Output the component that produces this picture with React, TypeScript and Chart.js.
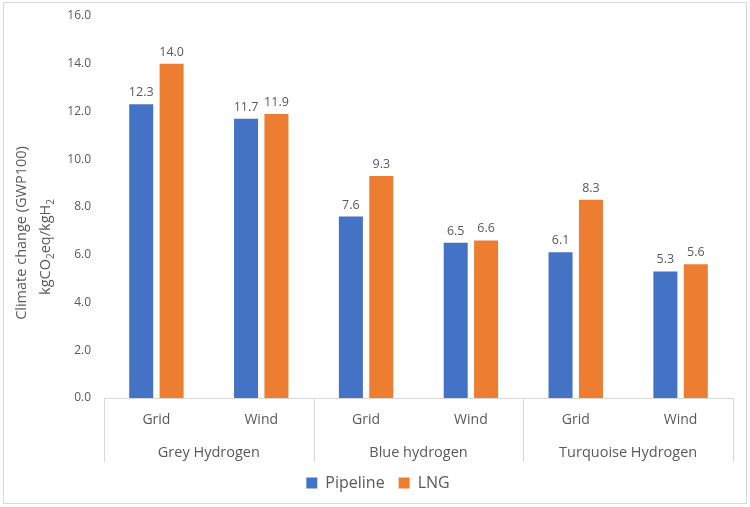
import { useEffect, useRef } from "react";
import { Chart, registerables } from "chart.js";

Chart.register(...registerables);

const categories = ["Grid", "Wind", "Grid", "Wind", "Grid", "Wind"];
const groups = ["Grey Hydrogen", "Blue hydrogen", "Turquoise Hydrogen"];
const pipeline = [12.3, 11.7, 7.6, 6.5, 6.1, 5.3];
const lng = [14.0, 11.9, 9.3, 6.6, 8.3, 5.6];
const yTitleLine1 = "Climate change (GWP100)";
// second title line split into normal / subscript pieces
const yTitleLine2: [string, boolean][] = [
  ["kgCO", false],
  ["2", true],
  ["eq/kgH", false],
  ["2", true],
];

const FONT = "'Open Sans', 'Noto Sans', sans-serif";
const TEXT = "#595959";
const LINE = "#d9d9d9";

const extrasPlugin = {
  id: "extras",
  afterDatasetsDraw(chart: any) {
    const ctx = chart.ctx;
    ctx.save();
    ctx.fillStyle = TEXT;
    ctx.font = `12.5px ${FONT}`;
    ctx.textAlign = "center";
    ctx.textBaseline = "alphabetic";
    chart.data.datasets.forEach((ds: any, i: number) => {
      const meta = chart.getDatasetMeta(i);
      meta.data.forEach((bar: any, j: number) => {
        ctx.fillText(Number(ds.data[j]).toFixed(1), bar.x, bar.y - 8);
      });
    });
    ctx.restore();
  },
  afterDraw(chart: any) {
    const ctx = chart.ctx;
    const x = chart.scales.x;
    const area = chart.chartArea;
    const step = x.getPixelForValue(1) - x.getPixelForValue(0);
    const edge = (i: number) => x.getPixelForValue(0) - step / 2 + i * step;

    ctx.save();
    // group dividers
    ctx.strokeStyle = LINE;
    ctx.lineWidth = 1;
    for (let g = 0; g <= groups.length; g++) {
      const px = Math.round(edge(g * 2)) + 0.5;
      ctx.beginPath();
      ctx.moveTo(px, area.bottom);
      ctx.lineTo(px, area.bottom + 64);
      ctx.stroke();
    }
    // group labels
    ctx.fillStyle = TEXT;
    ctx.font = `14.5px ${FONT}`;
    ctx.textAlign = "center";
    ctx.textBaseline = "middle";
    groups.forEach((g, i) => {
      ctx.fillText(g, (edge(i * 2) + edge(i * 2 + 2)) / 2, area.bottom + 55);
    });

    // y axis title, two rotated lines
    const cy = 233;
    ctx.translate(22, cy);
    ctx.rotate(-Math.PI / 2);
    ctx.font = `14.5px ${FONT}`;
    ctx.fillText(yTitleLine1, 0, 0);
    ctx.restore();

    ctx.save();
    ctx.fillStyle = TEXT;
    ctx.translate(46, cy + 14);
    ctx.rotate(-Math.PI / 2);
    ctx.textBaseline = "middle";
    ctx.textAlign = "left";
    const big = `14.5px ${FONT}`;
    const small = `10px ${FONT}`;
    let total = 0;
    yTitleLine2.forEach(([t, sub]) => {
      ctx.font = sub ? small : big;
      total += ctx.measureText(t).width;
    });
    let px = -total / 2;
    yTitleLine2.forEach(([t, sub]) => {
      ctx.font = sub ? small : big;
      ctx.fillText(t, px, sub ? 5 : 0);
      px += ctx.measureText(t).width;
    });
    ctx.restore();
  },
};

function BarChart() {
  const canvasRef = useRef<HTMLCanvasElement>(null);

  useEffect(() => {
    if (!canvasRef.current) return;
    const chart = new Chart(canvasRef.current, {
      type: "bar",
      data: {
        labels: categories,
        datasets: [
          { label: "Pipeline", data: pipeline, backgroundColor: "#4472C4" },
          { label: "LNG", data: lng, backgroundColor: "#ED7D31" },
        ],
      },
      options: {
        animation: false,
        responsive: true,
        maintainAspectRatio: false,
        layout: { padding: { left: 23, right: 17, top: 16, bottom: 6 } },
        datasets: {
          bar: { categoryPercentage: 0.58, barPercentage: 0.79 },
        },
        plugins: {
          tooltip: { enabled: false },
          legend: {
            position: "bottom",
            labels: {
              boxWidth: 11,
              boxHeight: 11,
              padding: 14,
              color: TEXT,
              font: { family: FONT, size: 16 },
            },
          },
        },
        scales: {
          x: {
            grid: { display: false, drawTicks: false },
            border: { display: true, color: LINE, width: 1 },
            ticks: {
              color: TEXT,
              padding: 14,
              font: { family: FONT, size: 14 },
            },
            afterFit: (s: any) => {
              s.height = 63;
            },
          },
          y: {
            min: 0,
            max: 16,
            grid: { display: false, drawTicks: false },
            border: { display: false },
            ticks: {
              stepSize: 2,
              color: TEXT,
              padding: 13,
              font: { family: FONT, size: 12 },
              callback: (v: any) => Number(v).toFixed(1),
            },
            afterFit: (s: any) => {
              s.width = 81;
              // tick padding is horizontal here; don't let it push the plot down
              s.paddingTop = 0;
              s.paddingBottom = 0;
            },
          },
        },
      },
      plugins: [extrasPlugin],
    });
    return () => chart.destroy();
  }, []);

  return (
    <div style={{ position: "absolute", left: 0, top: 0, width: 750, height: 507, background: "#fff" }}>
      <div
        style={{
          position: "absolute",
          left: 3,
          top: 2,
          width: 744,
          height: 502,
          border: `1px solid ${LINE}`,
          boxSizing: "border-box",
        }}
      />
      <canvas ref={canvasRef} />
    </div>
  );
}

export default function App() {
  return <BarChart />;
}
